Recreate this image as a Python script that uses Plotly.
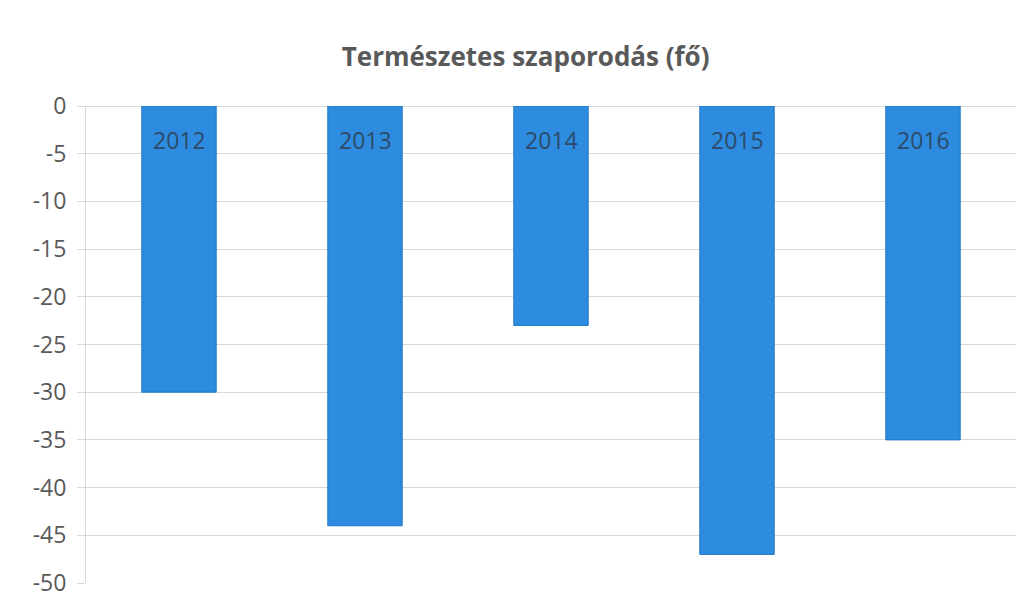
import plotly.graph_objects as go

years = ["2012", "2013", "2014", "2015", "2016"]
values = [-30, -44, -23, -47, -35]
y_ticks = [0, -5, -10, -15, -20, -25, -30, -35, -40, -45, -50]

fig = go.Figure()
fig.add_trace(go.Bar(
    x=years, y=values,
    marker=dict(color="#2d8ce0", line=dict(color="#1f76c6", width=1)),
    hoverinfo="x+y",
))

# label each bar with its year, placed by category index on the x axis
for i, yr in enumerate(years):
    fig.add_annotation(x=i, y=0, xref="x", yref="y", text=yr, showarrow=False, yshift=-34,
                       font=dict(family="Open Sans", size=23, color="#2e4a68"))

# page body has an 8px default margin, so the figure is sized to fit the window
fig.update_layout(
    width=1025, height=597,
    paper_bgcolor="white", plot_bgcolor="white",
    margin=dict(l=78, r=17, t=98, b=22),
    title=dict(text="<b>Természetes szaporodás (fő)</b>", x=0.505, xanchor="center",
               y=1 - 49 / 597, yanchor="middle",
               font=dict(family="Open Sans", size=26, color="#595959")),
    showlegend=False,
    bargap=0.6,
)
fig.update_xaxes(type="category", categoryorder="array", categoryarray=years,
                 range=[-0.5, 4.5], showticklabels=False, showgrid=False,
                 zeroline=False, showline=False, automargin=False)
fig.update_yaxes(range=[-50, 0], tickvals=y_ticks, ticktext=[str(v) for v in y_ticks],
                 automargin=False,
                 showgrid=True, gridcolor="#d9d9d9", gridwidth=1,
                 zeroline=True, zerolinecolor="#d9d9d9", zerolinewidth=1,
                 showline=True, linecolor="#d9d9d9", linewidth=1,
                 ticks="outside", ticklen=8, tickcolor="#d9d9d9",
                 ticklabelstandoff=6,
                 tickfont=dict(family="Open Sans", size=23, color="#595959"))

fig.write_html("out.html")
